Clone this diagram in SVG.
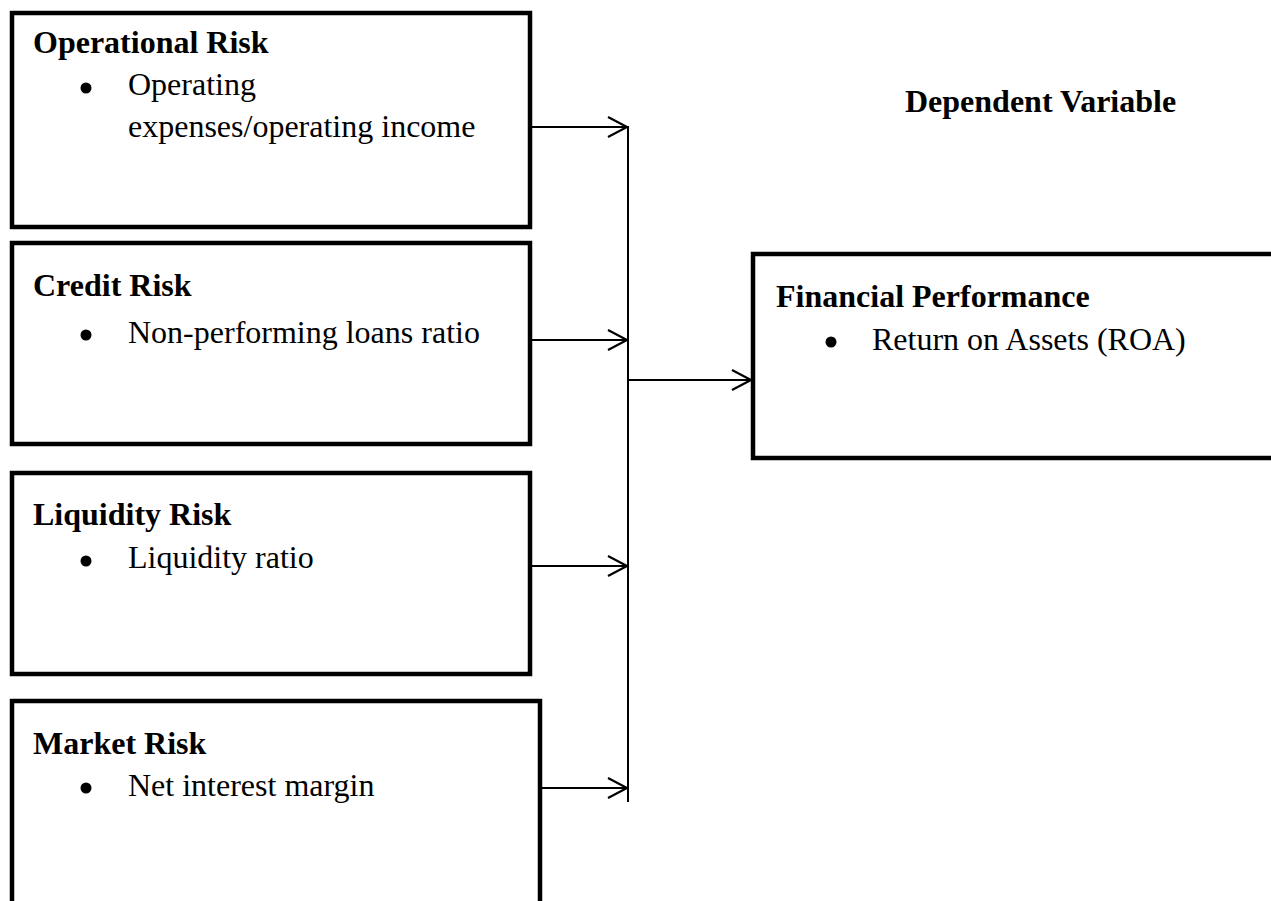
<svg xmlns="http://www.w3.org/2000/svg" width="1271" height="901" viewBox="0 0 1271 901">
<defs>
<style>
.box{fill:#fff;stroke:#000;stroke-width:4.5}
.t{font-family:"Liberation Serif","Times New Roman",serif;font-size:32px;fill:#000}
.b{font-weight:bold}
.c{stroke:#000;stroke-width:2;fill:none}
</style>
<marker id="arr" markerUnits="userSpaceOnUse" markerWidth="24" markerHeight="24" viewBox="-21 -12 24 24" refX="0" refY="0" orient="auto">
<path d="M-19,-10 L0,0 L-19,10" fill="none" stroke="#000" stroke-width="2.2"/>
</marker>
</defs>
<rect width="1271" height="901" fill="#fff"/>
<g id="operational">
<rect class="box" x="12" y="13" width="518" height="214"/>
<text class="t b" x="33" y="53">Operational Risk</text>
<circle cx="86" cy="88" r="5.5"/>
<text class="t" x="128" y="95">Operating</text>
<text class="t" x="128" y="137">expenses/operating income</text>
</g>
<g id="credit">
<rect class="box" x="12" y="243" width="518" height="201"/>
<text class="t b" x="33" y="296">Credit Risk</text>
<circle cx="86" cy="335" r="5.5"/>
<text class="t" x="128" y="343">Non-performing loans ratio</text>
</g>
<g id="liquidity">
<rect class="box" x="12" y="473" width="518" height="201"/>
<text class="t b" x="33" y="525">Liquidity Risk</text>
<circle cx="86" cy="561" r="5.5"/>
<text class="t" x="128" y="568">Liquidity ratio</text>
</g>
<g id="market">
<rect class="box" x="12" y="701" width="528" height="220"/>
<text class="t b" x="33" y="754">Market Risk</text>
<circle cx="86" cy="788" r="5.5"/>
<text class="t" x="128" y="796">Net interest margin</text>
</g>
<g id="financial">
<rect class="box" x="753" y="254" width="540" height="204"/>
<text class="t b" x="776" y="307">Financial Performance</text>
<circle cx="831" cy="342" r="5.5"/>
<text class="t" x="872" y="350">Return on Assets (ROA)</text>
</g>
<g id="label">
<text class="t b" x="905" y="112">Dependent Variable</text>
</g>
<g id="connectors">
<line class="c" x1="628" y1="126" x2="628" y2="802"/>
<line class="c" x1="532" y1="127" x2="627" y2="127" marker-end="url(#arr)"/>
<line class="c" x1="532" y1="340" x2="627" y2="340" marker-end="url(#arr)"/>
<line class="c" x1="532" y1="566" x2="627" y2="566" marker-end="url(#arr)"/>
<line class="c" x1="542" y1="788" x2="627" y2="788" marker-end="url(#arr)"/>
<line class="c" x1="628" y1="380" x2="751" y2="380" marker-end="url(#arr)"/>
</g>
</svg>
